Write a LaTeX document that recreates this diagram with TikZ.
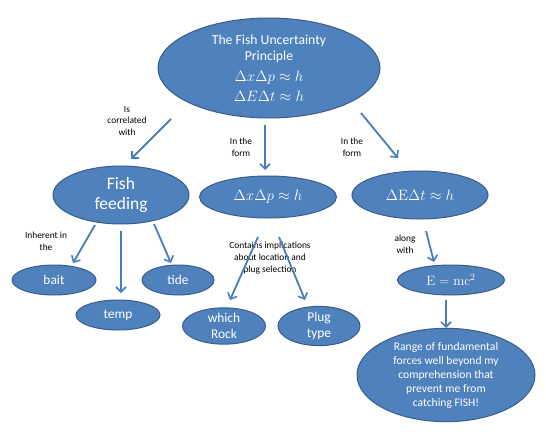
\RequirePackage{fix-cm}
\documentclass[tikz,border=0pt]{standalone}
\usepackage[no-math]{fontspec}
\setmainfont{Carlito}
\usetikzlibrary{shapes.geometric,arrows.meta}
\definecolor{ofill}{HTML}{4F81BD}
\definecolor{oline}{HTML}{385D8A}
\definecolor{oarrow}{HTML}{4A7EBB}
\newcommand{\titlefont}{\fontsize{13.7}{16.5}\selectfont}
\newcommand{\eqfont}{\fontsize{15}{20}\selectfont}
\begin{document}
\begin{tikzpicture}[x=1pt,y=-1pt,
  blob/.style={ellipse,fill=ofill,draw=oline,line width=1pt,text=white,inner sep=0pt,align=center},
  lbl/.style={align=center,text=black,inner sep=0pt,font=\fontsize{9.4}{11.8}\selectfont},
  arr/.style={draw=oarrow,line width=1.8pt,-{Straight Barb[length=5pt,width=10pt,line width=1.6pt]}}]
\useasboundingbox[fill=white] (0,0) rectangle (546,436);
% nodes
\node[blob,minimum width=222pt,minimum height=100pt] (top) at (269,68) {};
\node[align=center,text=white,inner sep=0pt,font=\titlefont] (toptitle) at (269,49) {The Fish Uncertainty\\Principle};
\node[align=center,text=white,inner sep=0pt,font=\eqfont] (topeq) at (269,86) {$\Delta x\Delta p\approx h$\\$\Delta E\Delta t\approx h$};
\node[blob,minimum width=136pt,minimum height=58pt,font=\fontsize{17.5}{20.5}\selectfont] (ff) at (121,195) {Fish\\feeding};
\node[blob,minimum width=137pt,minimum height=42pt,font=\eqfont] (dxdp) at (268,197) {$\Delta x\Delta p\approx h$};
\node[blob,minimum width=136pt,minimum height=48pt,font=\eqfont] (dedt) at (420,195) {$\Delta \mathrm{E}\Delta t\approx h$};
\node[blob,minimum width=84pt,minimum height=30pt,font=\fontsize{13.4}{16.3}\selectfont] (bait) at (54,280) {bait};
\node[blob,minimum width=72pt,minimum height=30pt,font=\fontsize{13.4}{16.3}\selectfont] (tide) at (178,280) {tide};
\node[blob,minimum width=84pt,minimum height=30pt,font=\fontsize{13.4}{16.3}\selectfont] (temp) at (118,315) {temp};
\node[blob,minimum width=83pt,minimum height=30pt,font=\fontsize{13.4}{16.3}\selectfont] (rock) at (224,326) {which\\Rock};
\node[blob,minimum width=82pt,minimum height=32pt,font=\fontsize{13.4}{16.3}\selectfont] (plug) at (319,326) {Plug\\type};
\node[blob,minimum width=107pt,minimum height=30pt,font=\fontsize{13.5}{16}\selectfont] (emc) at (451,280) {$\mathrm{E}=\mathrm{mc}^2$};
\node[blob,minimum width=178pt,minimum height=83pt,font=\fontsize{11.6}{14}\selectfont] (range) at (446,375) {Range of fundamental\\forces well beyond my\\comprehension that\\prevent me from\\catching FISH!};
% labels
\node[lbl] (l1) at (127,121) {Is\\correlated\\with};
\node[lbl] (l2) at (241,147) {In the\\form};
\node[lbl] (l3) at (352,147) {In the\\form};
\node[lbl] (l4) at (46,241) {Inherent in\\the};
\node[lbl] (l5) at (270,258) {Contains implications\\about location and\\plug selection};
\node[lbl] (l6) at (405,244) {along\\with};
% connectors
\draw[arr] ([shift={(-98,51)}]top.center) -- ([shift={(10,-36)}]ff.center);
\draw[arr] ([shift={(-4,57)}]top.center) -- ([shift={(-3,-27)}]dxdp.center);
\draw[arr] ([shift={(92,45)}]top.center) -- ([shift={(-22,-37)}]dedt.center);
\draw[arr] ([shift={(-26,30)}]ff.center) -- ([shift={(19,-17)}]bait.center);
\draw[arr] ([shift={(0,36)}]ff.center) -- ([shift={(3,-22)}]temp.center);
\draw[arr] ([shift={(33,29)}]ff.center) -- ([shift={(-7,-17)}]tide.center);
\draw[arr] ([shift={(-10,40)}]dxdp.center) -- ([shift={(6,-26)}]rock.center);
\draw[arr] ([shift={(11,40)}]dxdp.center) -- ([shift={(-14,-26)}]plug.center);
\draw[arr] ([shift={(6,36)}]dedt.center) -- ([shift={(-17,-18)}]emc.center);
\draw[arr] ([shift={(-5,20)}]emc.center) -- ([shift={(0,-47)}]range.center);
\end{tikzpicture}
\end{document}
